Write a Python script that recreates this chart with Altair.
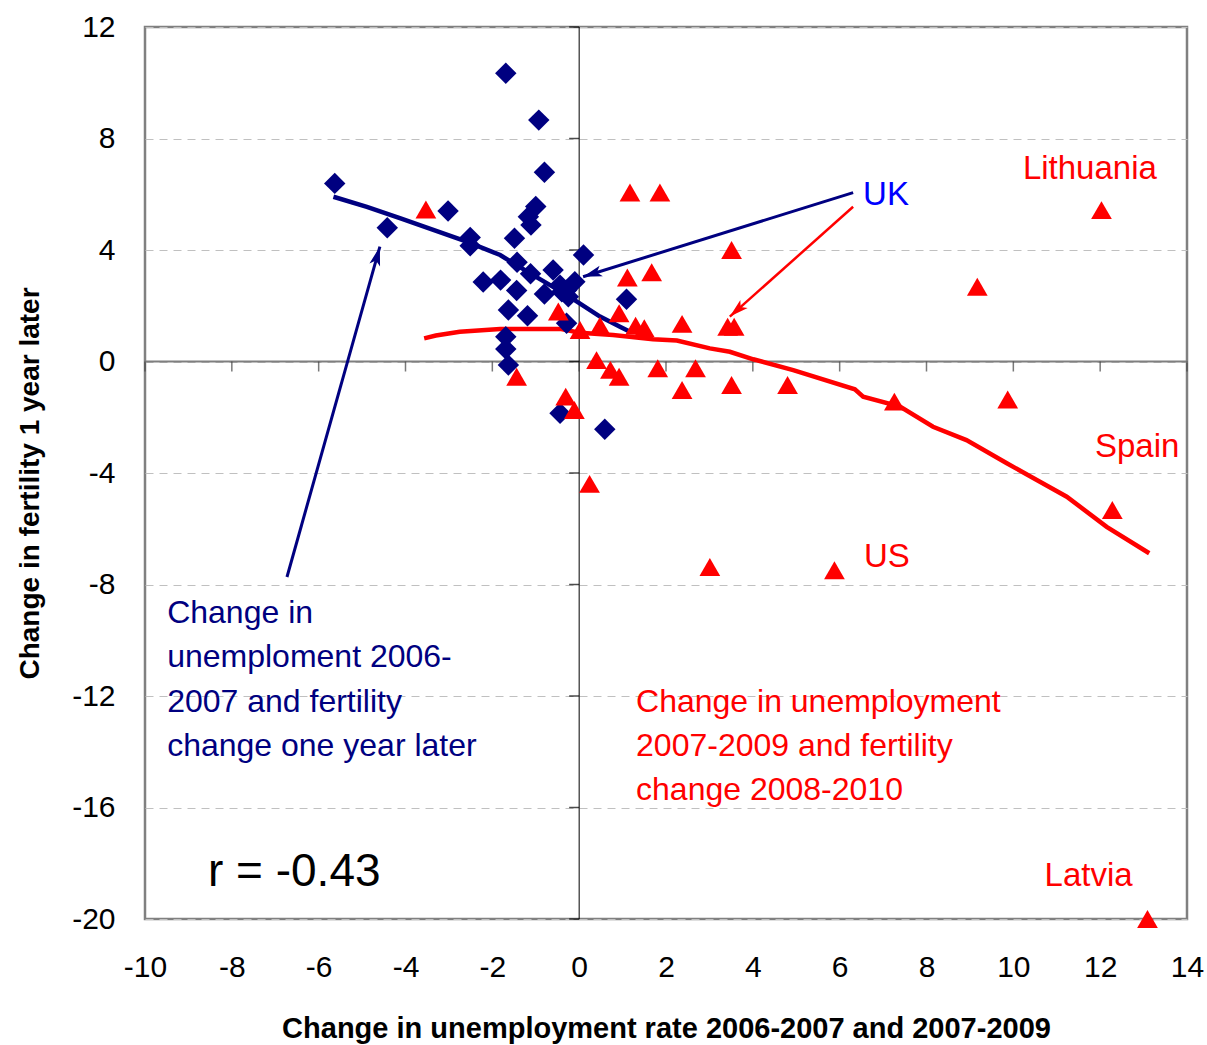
import altair as alt
import numpy as np
import pandas as pd

# Change in unemployment 2006-2007 vs fertility change one year later
blue_x = [-5.63, -4.42, -3.02, -2.51, -2.51, -2.21, -1.81, -1.69, -1.69, -1.69,
          -1.63, -1.63, -1.49, -1.43, -1.44, -1.19, -1.17, -1.11, -1.12, -1.00,
          -0.93, -0.80, -0.80, -0.60, -0.44, -0.40, -0.29, -0.25, -0.10, -0.29,
          -0.44, 0.10, 0.59, 1.09]
blue_y = [6.39, 4.80, 5.40, 4.45, 4.15, 2.85, 2.92, 10.34, 0.89, 0.45,
          -0.13, 1.85, 4.42, 3.56, 2.55, 1.64, 5.19, 4.90, 3.15, 5.56,
          8.66, 6.79, 2.42, 3.28, 2.74, 2.50, 2.56, 2.32, 2.86, 1.37,
          -1.86, 3.82, -2.43, 2.23]

# Change in unemployment 2007-2009 vs fertility change 2008-2010
red_x = [-3.53, -1.44, -0.48, -0.31, -0.11, 0.02, 0.24, 0.40, 0.48, 0.72,
         0.92, 0.92, 1.11, 1.17, 1.30, 1.50, 1.67, 1.81, 1.86, 2.37,
         2.37, 2.68, 3.01, 3.42, 3.51, 3.51, 3.57, 4.80, 5.88, 7.26,
         9.17, 9.87, 12.03, 12.28, 13.09]
red_y = [5.45, -0.55, 1.79, -1.26, -1.74, 1.13, -4.39, 0.05, 1.28, -0.30,
         1.73, -0.55, 3.01, 6.06, 1.28, 1.19, 3.20, -0.24, 6.06, 1.35,
         -1.02, -0.24, -7.37, 1.25, 4.00, -0.84, 1.25, -0.84, -7.49, -1.44,
         2.68, -1.36, 5.43, -5.33, -20.0]

# Smoothed fits through each period
blue_fit_x = [-5.66, -4.89, -4.13, -3.36, -2.59, -1.82, -1.06, -0.29, 0.48, 0.94, 1.17]
blue_fit_y = [5.91, 5.55, 5.14, 4.72, 4.30, 3.82, 3.10, 2.39, 1.61, 1.25, 1.07]
red_fit_x = [-3.57, -3.30, -2.75, -1.82, -0.44, 0.02, 0.78, 1.70, 2.25, 3.01, 3.47,
             4.01, 4.93, 6.35, 6.54, 7.39, 8.15, 8.92, 9.85, 10.54, 11.23, 12.15, 13.13]
red_fit_y = [0.83, 0.93, 1.07, 1.17, 1.17, 1.03, 0.95, 0.80, 0.75, 0.47, 0.35,
             0.08, -0.31, -1.00, -1.26, -1.62, -2.34, -2.82, -3.65, -4.25, -4.85, -5.93, -6.88]

# Country labels
country_names = ["UK", "Lithuania", "Spain", "US", "Latvia"]
country_x = [6.54, 10.22, 11.88, 6.56, 10.72]
country_y = [5.97, 6.91, -3.05, -7.01, -18.47]
country_colors = ["#0000FF", "#FF0000", "#FF0000", "#FF0000", "#FF0000"]

# Period notes (anchored at their first line)
note_text = ["Change in\nunemploment 2006-\n2007 and fertility\nchange one year later",
             "Change in unemployment\n2007-2009 and fertility\nchange 2008-2010"]
note_x = [-9.49, 1.31]
note_y = [-9.02, -12.21]
note_colors = ["#000080", "#FF0000"]

# Pointer arrows: tail -> head
arrow_x = [-6.73, 6.31, 6.31]
arrow_y = [-7.73, 6.06, 5.55]
arrow_hx = [-4.59, 0.09, 3.47]
arrow_hy = [4.12, 3.04, 1.61]
arrow_colors = ["#000080", "#000080", "#FF0000"]
arrow_widths = [3, 3, 2.5]

corr_label = "r = -0.43"

x_ticks = list(range(-10, 15, 2))
y_ticks = list(range(-20, 13, 4))

X_DOMAIN = [-10, 14]
Y_DOMAIN = [-20, 12]
W, H = 1042, 892
FONT = "Liberation Sans"

xs = alt.Scale(domain=X_DOMAIN, nice=False, zero=False)
ys = alt.Scale(domain=Y_DOMAIN, nice=False, zero=False)

# Labels sit on the frame (plain hyphen minus); tick marks are drawn on the zero lines
x_axis = alt.Axis(
    values=x_ticks, ticks=False, domain=False, grid=False,
    labelExpr="datum.value + ''", labelFlush=False,
    labelFont=FONT, labelFontSize=30, labelColor="black", labelPadding=33,
    title="Change in unemployment rate 2006-2007 and 2007-2009",
    titleFont=FONT, titleFontSize=29, titleFontWeight="bold", titleColor="black",
    titleY=109, titleBaseline="middle")
y_axis = alt.Axis(
    values=y_ticks, ticks=False, domain=False, grid=True,
    gridDash=[8, 6], gridColor="#c0c0c0", gridWidth=1,
    labelExpr="datum.value + ''", labelFlush=False,
    labelFont=FONT, labelFontSize=30, labelColor="black", labelPadding=30,
    title="Change in fertility 1 year later",
    titleFont=FONT, titleFontSize=28, titleFontWeight="bold", titleColor="black",
    titleX=-115, titleY=456, titleAlign="center", titleBaseline="middle")


def X(field="x"):
    return alt.X(f"{field}:Q", scale=xs, axis=x_axis)


def Y(field="y"):
    return alt.Y(f"{field}:Q", scale=ys, axis=y_axis)


blue_df = pd.DataFrame({"x": blue_x, "y": blue_y})
red_df = pd.DataFrame({"x": red_x, "y": red_y})
blue_fit = pd.DataFrame({"x": blue_fit_x, "y": blue_fit_y, "i": range(len(blue_fit_x))})
red_fit = pd.DataFrame({"x": red_fit_x, "y": red_fit_y, "i": range(len(red_fit_x))})

# Zero lines crossing at the origin
h_zero = alt.Chart(pd.DataFrame({"x": [X_DOMAIN[0]], "x2": [X_DOMAIN[1]], "y": [0]})).mark_rule(
    color="#7f7f7f", strokeWidth=2).encode(x=X(), x2="x2:Q", y=Y())
v_zero = alt.Chart(pd.DataFrame({"x": [0], "y": [Y_DOMAIN[0]], "y2": [Y_DOMAIN[1]]})).mark_rule(
    color="black", strokeWidth=1).encode(x=X(), y=Y(), y2="y2:Q")

x_tick_marks = alt.Chart(pd.DataFrame({"x": x_ticks, "y": [0] * len(x_ticks)})).mark_tick(
    orient="vertical", size=10, thickness=1.5, yOffset=5, color="#404040").encode(x=X(), y=Y())
y_tick_marks = alt.Chart(pd.DataFrame({"x": [0] * len(y_ticks), "y": y_ticks})).mark_tick(
    orient="horizontal", size=10, thickness=1.5, xOffset=-5, color="black").encode(x=X(), y=Y())

red_line = alt.Chart(red_fit).mark_line(color="#FF0000", strokeWidth=4.5).encode(
    x=X(), y=Y(), order="i:Q")
blue_line = alt.Chart(blue_fit).mark_line(color="#000080", strokeWidth=4.5).encode(
    x=X(), y=Y(), order="i:Q")

diamonds = alt.Chart(blue_df).mark_point(
    shape="diamond", filled=True, size=460, color="#000080", opacity=1).encode(x=X(), y=Y())
triangles = alt.Chart(red_df).mark_point(
    shape="triangle-up", filled=True, size=430, color="#FF0000", opacity=1).encode(x=X(), y=Y())

# Arrow shafts and heads; head angle follows the on-screen direction of the shaft
px_x = W / (X_DOMAIN[1] - X_DOMAIN[0])
px_y = H / (Y_DOMAIN[1] - Y_DOMAIN[0])
dx = (np.array(arrow_hx) - np.array(arrow_x)) * px_x
dy = -(np.array(arrow_hy) - np.array(arrow_y)) * px_y
angles = (np.degrees(np.arctan2(dx, -dy)) + 360) % 360
arrow_df = pd.DataFrame({"x": arrow_x, "y": arrow_y, "hx": arrow_hx, "hy": arrow_hy,
                         "color": arrow_colors, "w": arrow_widths, "angle": angles})
shafts = alt.Chart(arrow_df).mark_rule().encode(
    x=X(), y=Y(), x2="hx:Q", y2="hy:Q",
    color=alt.Color("color:N", scale=None),
    strokeWidth=alt.StrokeWidth("w:Q", scale=None))
STEALTH = "M0,0L0.55,1.9L0,1.45L-0.55,1.9Z"
heads = alt.Chart(arrow_df).mark_point(shape=STEALTH, filled=True, size=400, opacity=1).encode(
    x=X("hx"), y=Y("hy"),
    color=alt.Color("color:N", scale=None),
    angle=alt.Angle("angle:Q", scale=None))

countries = alt.Chart(pd.DataFrame({"x": country_x, "y": country_y, "t": country_names,
                                    "c": country_colors})).mark_text(
    align="left", baseline="middle", font=FONT, fontSize=33).encode(
    x=X(), y=Y(), text="t:N", color=alt.Color("c:N", scale=None))

notes = alt.Chart(pd.DataFrame({"x": note_x, "y": note_y, "t": note_text,
                                "c": note_colors})).mark_text(
    align="left", baseline="middle", font=FONT, fontSize=32, lineBreak="\n", lineHeight=44.3).encode(
    x=X(), y=Y(), text="t:N", color=alt.Color("c:N", scale=None))

corr = alt.Chart(pd.DataFrame({"x": [-8.55], "y": [-18.31], "t": [corr_label]})).mark_text(
    align="left", baseline="middle", font=FONT, fontSize=46, color="black").encode(
    x=X(), y=Y(), text="t:N")

chart = alt.layer(
    h_zero, v_zero, x_tick_marks, y_tick_marks,
    red_line, blue_line, diamonds, triangles, shafts, heads,
    countries, notes, corr,
).properties(
    width=W, height=H,
    padding={"left": 145, "top": 27, "right": 20, "bottom": 126},
    autosize=alt.AutoSizeParams(type="none"),
    background="white",
).configure_view(stroke="#808080", strokeWidth=2.5)

chart.save("out.html", embed_options={"renderer": "svg", "actions": False})
